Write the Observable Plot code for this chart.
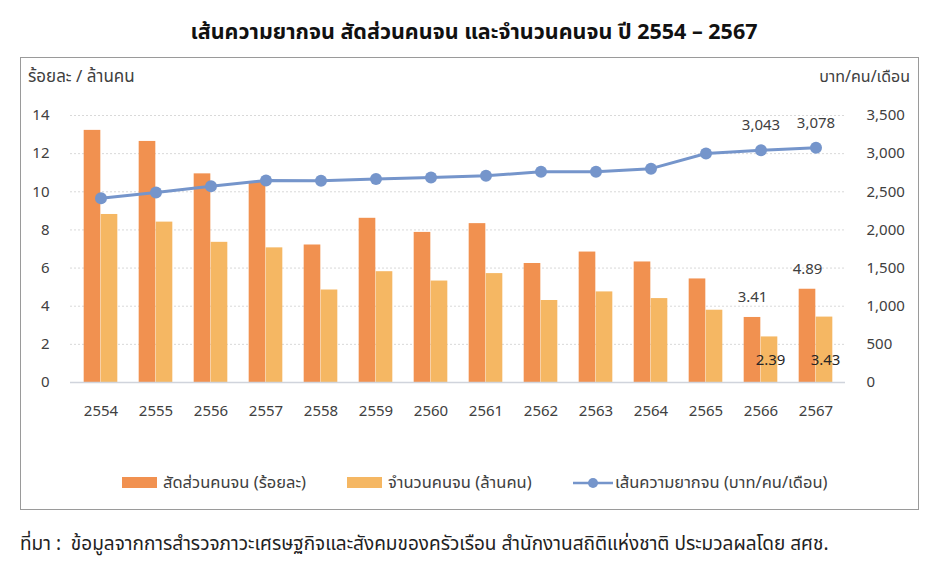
<!DOCTYPE html>
<html><head><meta charset="utf-8">
<script src="https://cdn.jsdelivr.net/npm/d3@7"></script>
<script src="https://cdn.jsdelivr.net/npm/@observablehq/plot@0.6"></script>
<style>
body{margin:0;background:#fff;font-family:Tahoma,"Noto Sans","Noto Sans Thai","DejaVu Sans",sans-serif;color:#404040;}
#wrap{position:relative;width:933px;height:580px;overflow:hidden;}
#title{position:absolute;left:0;width:948px;top:16px;text-align:center;font-size:21.5px;font-weight:bold;color:#111;}
#box{position:absolute;left:20px;top:57px;width:899px;height:453px;border:1.5px solid #9a9a9a;box-sizing:border-box;}
#chart{position:absolute;left:0;top:0;}
#ylab{position:absolute;left:28px;top:64px;font-size:17px;}
#ylab2{position:absolute;right:23px;top:65px;font-size:16px;}
#legend{position:absolute;left:122px;top:470px;font-size:16.5px;display:flex;align-items:center;white-space:nowrap;}
.sw{display:inline-block;width:35px;height:11px;margin-right:6px;}
.item{display:flex;align-items:center;}
#foot{position:absolute;left:20px;top:530px;font-size:19px;color:#222;white-space:nowrap;}
</style></head>
<body>
<div id="wrap">
  <div id="title">เส้นความยากจน สัดส่วนคนจน และจำนวนคนจน ปี 2554 – 2567</div>
  <div id="box"></div>
  <div id="chart"></div>
  <div id="ylab">ร้อยละ / ล้านคน</div>
  <div id="ylab2">บาท/คน/เดือน</div>
  <div id="legend">
    <div class="item" style="width:225px"><span class="sw" style="background:#f19150"></span>สัดส่วนคนจน (ร้อยละ)</div>
    <div class="item" style="width:226px"><span class="sw" style="background:#f5b763"></span>จำนวนคนจน (ล้านคน)</div>
    <div class="item"><svg width="40" height="12" style="margin-right:2px"><line x1="0" y1="6" x2="40" y2="6" stroke="#7595cb" stroke-width="2.5"/><circle cx="20" cy="6" r="5" fill="#7595cb"/></svg>เส้นความยากจน (บาท/คน/เดือน)</div>
  </div>
  <div id="foot">ที่มา :&nbsp; ข้อมูลจากการสำรวจภาวะเศรษฐกิจและสังคมของครัวเรือน สำนักงานสถิติแห่งชาติ ประมวลผลโดย สศช.</div>
</div>
<script>
const years = ["2554","2555","2556","2557","2558","2559","2560","2561","2562","2563","2564","2565","2566","2567"];
const poorRatio = [13.22, 12.64, 10.94, 10.53, 7.21, 8.61, 7.87, 8.33, 6.24, 6.84, 6.32, 5.43, 3.41, 4.89];
const poorCount = [8.81, 8.41, 7.35, 7.06, 4.85, 5.81, 5.32, 5.71, 4.30, 4.75, 4.40, 3.79, 2.39, 3.43];
const povertyLine = [2415, 2492, 2572, 2647, 2644, 2667, 2686, 2710, 2763, 2762, 2803, 3001, 3043, 3078];
const leftTicks = [0, 2, 4, 6, 8, 10, 12, 14];
const rightTicks = [0, 500, 1000, 1500, 2000, 2500, 3000, 3500];
const labeledYears = ["2566", "2567"];

const ratioScale = rightTicks[rightTicks.length - 1] / leftTicks[leftTicks.length - 1];
const rows = years.map((y, i) => ({year: y, ratio: poorRatio[i], count: poorCount[i], line: povertyLine[i], lineL: povertyLine[i] / ratioScale}));
const labeled = rows.filter(d => labeledYears.includes(d.year));

const W = 933, H = 430, mL = 70, mR = 88;
const bw = (W - mL - mR) / years.length;
const barW = 17;
const half = bw / 2;
const fmt = d3.format(",");

const chart = Plot.plot({
  width: W, height: H,
  marginTop: 115, marginBottom: 48, marginLeft: mL, marginRight: mR,
  style: {background: "transparent", fontSize: "15px", fontFamily: 'Tahoma,"Noto Sans","DejaVu Sans",sans-serif', color: "#404040"},
  x: {type: "band", domain: years, padding: 0},
  y: {domain: [0, 14]},
  marks: [
    Plot.ruleY(leftTicks.filter(d => d > 0), {stroke: "#d9d9d9", strokeDasharray: "2,2"}),
    Plot.barY(rows, {x: "year", y: "ratio", fill: "#f19150", insetLeft: half - barW, insetRight: half}),
    Plot.barY(rows, {x: "year", y: "count", fill: "#f5b763", insetLeft: half, insetRight: half - barW}),
    Plot.ruleY([0], {stroke: "#d0d4dc", strokeWidth: 1.5}),
    Plot.line(rows, {x: "year", y: "lineL", stroke: "#7595cb", strokeWidth: 3}),
    Plot.dot(rows, {x: "year", y: "lineL", fill: "#7595cb", r: 6}),
    Plot.text(labeled, {x: "year", y: "lineL", text: d => fmt(d.line), dy: -25, fill: "#404040", fontSize: 15}),
    Plot.text(labeled, {x: "year", y: "ratio", text: d => d3.format(".2f")(d.ratio), dx: -barW / 2, dy: -20, fill: "#404040", fontSize: 15}),
    Plot.text(labeled, {x: "year", y: () => 0, text: d => d3.format(".2f")(d.count), dx: barW / 2 + 1, dy: -22, fill: "#262626", fontSize: 15}),
    Plot.axisY({anchor: "left", ticks: leftTicks, tickSize: 0, tickPadding: 21, label: null}),
    Plot.axisY({anchor: "right", ticks: rightTicks.map(v => v / ratioScale), tickFormat: d => fmt(Math.round(d * ratioScale)), tickSize: 0, tickPadding: 21, label: null}),
    Plot.axisX({tickSize: 0, tickPadding: 23, label: null})
  ]
});
document.getElementById("chart").appendChild(chart);
</script>
</body></html>
